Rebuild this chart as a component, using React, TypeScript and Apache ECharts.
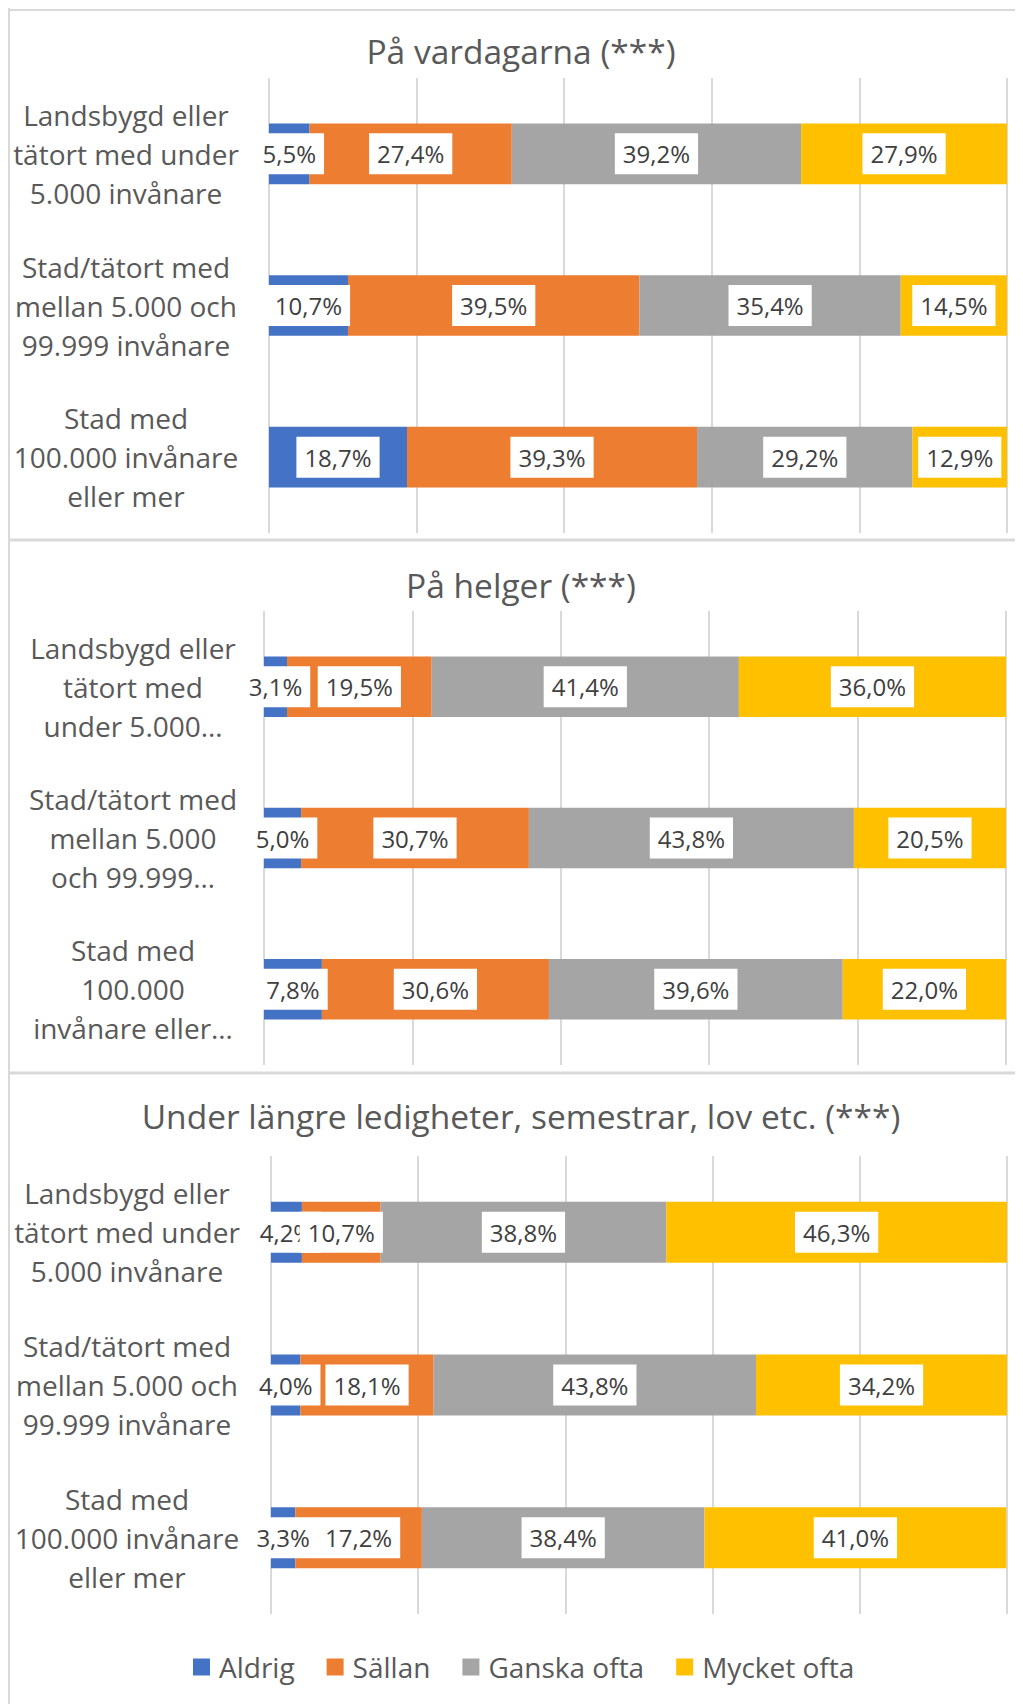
import React, { useEffect, useRef } from "react";
import * as echarts from "echarts";

const seriesNames = ["Aldrig", "Sällan", "Ganska ofta", "Mycket ofta"];
const seriesColors = ["#4472C4", "#ED7D31", "#A5A5A5", "#FFC000"];

const panelTitles = [
  "På vardagarna (***)",
  "På helger (***)",
  "Under längre ledigheter, semestrar, lov etc. (***)",
];

const categoriesFull = [
  "Landsbygd eller\ntätort med under\n5.000 invånare",
  "Stad/tätort med\nmellan 5.000 och\n99.999 invånare",
  "Stad med\n100.000 invånare\neller mer",
];
const categoriesShort = [
  "Landsbygd eller\ntätort med\nunder 5.000…",
  "Stad/tätort med\nmellan 5.000\noch 99.999…",
  "Stad med\n100.000\ninvånare eller…",
];

// På vardagarna
const vardagAldrig = [5.5, 10.7, 18.7];
const vardagSallan = [27.4, 39.5, 39.3];
const vardagGanska = [39.2, 35.4, 29.2];
const vardagMycket = [27.9, 14.5, 12.9];

// På helger
const helgAldrig = [3.1, 5.0, 7.8];
const helgSallan = [19.5, 30.7, 30.6];
const helgGanska = [41.4, 43.8, 39.6];
const helgMycket = [36.0, 20.5, 22.0];

// Under längre ledigheter
const ledigAldrig = [4.2, 4.0, 3.3];
const ledigSallan = [10.7, 18.1, 17.2];
const ledigGanska = [38.8, 43.8, 38.4];
const ledigMycket = [46.3, 34.2, 41.0];

const panelData = [
  [vardagAldrig, vardagSallan, vardagGanska, vardagMycket],
  [helgAldrig, helgSallan, helgGanska, helgMycket],
  [ledigAldrig, ledigSallan, ledigGanska, ledigMycket],
];
const panelCategories = [categoriesFull, categoriesShort, categoriesFull];

const FONT = "'Open Sans', 'Noto Sans', sans-serif";
const TEXT = "#595959";
const GRIDLINE = "#D9D9D9";

const grids = [
  { left: 261, width: 738, top: 70, height: 455 },
  { left: 256, width: 742, top: 603, height: 454 },
  { left: 263, width: 736, top: 1148, height: 458 },
];
const labelCenters = [118, 125, 119];
const titleY = [43, 577, 1108];
const TITLE_X = 513;

export default function App() {
  const ref = useRef<HTMLDivElement>(null);

  useEffect(() => {
    if (!ref.current) return;
    const chart = echarts.init(ref.current, undefined, { renderer: "svg" });

    const xAxes = grids.map((_, i) => ({
      type: "value",
      gridIndex: i,
      min: 0,
      max: 100,
      interval: 20,
      axisLabel: { show: false },
      axisLine: { show: false },
      axisTick: { show: false },
      splitLine: { show: true, lineStyle: { color: GRIDLINE, width: 2 } },
    }));

    const yAxes = grids.map((g, i) => ({
      type: "category",
      gridIndex: i,
      inverse: true,
      data: panelCategories[i],
      axisLine: { show: false },
      axisTick: { show: false },
      axisLabel: {
        color: TEXT,
        fontFamily: FONT,
        fontSize: 28,
        lineHeight: 39,
        align: "center",
        backgroundColor: "rgba(255,255,255,0)",
        padding: [0, 0, 6, 0],
        margin: g.left - labelCenters[i],
      },
    }));

    const series: any[] = [];
    panelData.forEach((arrs, p) => {
      arrs.forEach((vals, s) => {
        series.push({
          type: "bar",
          name: seriesNames[s],
          xAxisIndex: p,
          yAxisIndex: p,
          stack: "panel" + p,
          barWidth: "40%",
          data: vals,
          itemStyle: { color: seriesColors[s] },
          label: {
            show: true,
            position: "inside",
            formatter: (d: any) => d.value.toFixed(1).replace(".", ",") + "%",
            color: "#404040",
            fontFamily: FONT,
            fontSize: 24,
            lineHeight: 29,
            backgroundColor: "#FFFFFF",
            padding: [6, 8],
          },
        });
      });
    });

    const graphics: any[] = [
      { type: "line", shape: { x1: 1, y1: 0, x2: 1, y2: 1700 }, style: { stroke: GRIDLINE, lineWidth: 2 } },
      { type: "line", shape: { x1: 0, y1: 2, x2: 1010, y2: 2 }, style: { stroke: GRIDLINE, lineWidth: 2 } },
      { type: "line", shape: { x1: 0, y1: 532, x2: 1010, y2: 532 }, style: { stroke: GRIDLINE, lineWidth: 3 } },
      { type: "line", shape: { x1: 0, y1: 1065, x2: 1010, y2: 1065 }, style: { stroke: GRIDLINE, lineWidth: 3 } },
    ];
    panelTitles.forEach((t, i) => {
      graphics.push({
        type: "text",
        x: TITLE_X,
        y: titleY[i],
        style: {
          text: t,
          fill: TEXT,
          font: `33.5px ${FONT}`,
          fontSize: 33.5,
          fontFamily: FONT,
          align: "center",
          verticalAlign: "middle",
          textAlign: "center",
          textVerticalAlign: "middle",
        },
      });
    });

    chart.setOption({
      animation: false,
      backgroundColor: "#FFFFFF",
      grid: grids.map((g) => ({ ...g, containLabel: false })),
      xAxis: xAxes,
      yAxis: yAxes,
      series,
      legend: {
        data: seriesNames,
        left: 180,
        top: 1637,
        icon: "rect",
        itemWidth: 17,
        itemHeight: 17,
        itemGap: 32,
        textStyle: {
          color: TEXT,
          fontFamily: FONT,
          fontSize: 28,
          lineHeight: 34,
          padding: [0, 0, 0, 4],
        },
      },
      graphic: { elements: graphics },
    });

    return () => chart.dispose();
  }, []);

  return <div ref={ref} style={{ width: 1007, height: 1696 }} />;
}
